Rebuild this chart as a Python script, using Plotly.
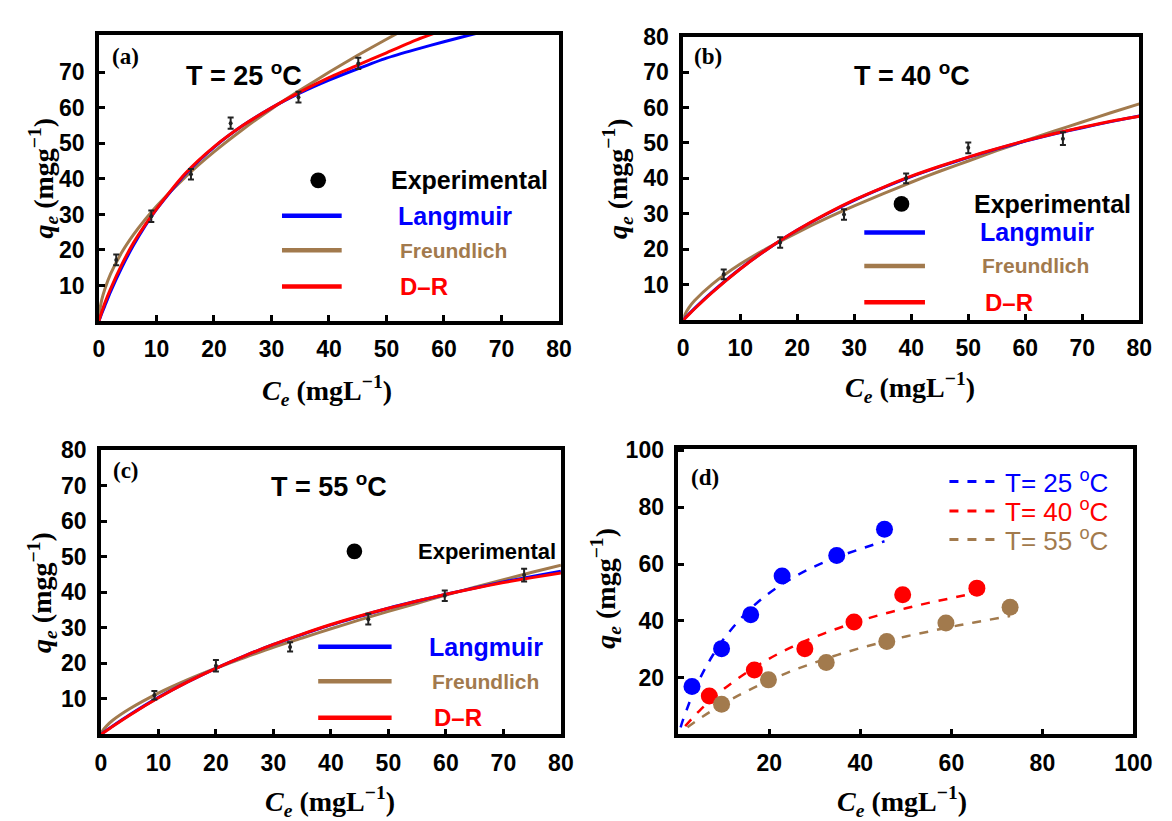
import plotly.graph_objects as go

W, H = 1172, 821

# ---------------- data ----------------
# (a) T = 25 C
a_ce = [3.0, 9.1, 16.0, 22.9, 34.7, 45.1]
a_qe = [17.2, 29.5, 41.3, 55.7, 63.0, 72.5]
a_err = [1.5, 1.6, 1.5, 1.6, 1.5, 1.6]
a_fx = [0, 0.2, 0.5, 1, 2, 4, 6, 8, 10, 15, 20, 25, 30, 35, 40, 45, 50, 55, 60, 65, 70]
a_lang = [0, 0.9, 2.2, 4.2, 8.2, 15.2, 21.3, 26.7, 31.4, 41.3, 48.9, 55.0, 60.0, 64.2, 67.8, 71.0, 74.0, 76.4, 78.6, 80.7, 82.6]
a_freu = [0, 3.6, 6.1, 8.9, 13.2, 19.4, 24.3, 28.5, 32.3, 40.5, 47.6, 53.9, 59.7, 65.0, 70.0, 74.8, 79.3, 83.7, 88.0, 92.0, 96.0]
a_dr = [0, 1.1, 2.6, 5.0, 9.0, 16.0, 22.0, 27.0, 31.5, 41.5, 49.0, 55.0, 60.0, 64.5, 68.5, 72.0, 75.5, 79.0, 82.0, 85.0, 88.0]

# (b) T = 40 C
b_ce = [7.1, 17.0, 28.2, 39.1, 50.0, 66.6]
b_qe = [12.9, 21.9, 29.8, 40.0, 48.6, 51.2]
b_err = [1.4, 1.5, 1.5, 1.4, 1.5, 1.8]
b_fx = [0, 0.2, 1, 2, 5, 10, 15, 20, 25, 30, 35, 40, 45, 50, 55, 60, 65, 70, 75, 80]
b_lang = [0, 0.3, 1.7, 3.3, 7.8, 14.5, 20.3, 25.4, 29.8, 33.8, 37.3, 40.5, 43.3, 45.9, 48.3, 50.5, 52.5, 54.3, 56.0, 57.6]
b_freu = [0, 1.2, 3.5, 5.5, 10.0, 15.8, 20.5, 24.7, 28.6, 32.2, 35.6, 38.9, 42.0, 44.9, 47.8, 50.6, 53.3, 55.9, 58.5, 61.0]
b_dr = [0, 0.3, 1.6, 3.2, 7.7, 14.4, 20.3, 25.4, 29.9, 33.9, 37.4, 40.6, 43.4, 46.0, 48.4, 50.6, 52.6, 54.4, 56.1, 57.5]

# (c) T = 55 C
c_ce = [9.3, 20.0, 32.9, 46.5, 59.8, 73.6]
c_qe = [11.0, 19.3, 24.6, 32.4, 39.0, 44.8]
c_err = [1.2, 1.6, 1.3, 1.5, 1.5, 1.8]
c_fx = [0, 0.2, 1, 2, 5, 10, 15, 20, 25, 30, 35, 40, 45, 50, 55, 60, 65, 70, 75, 80]
c_lang = [0, 0.2, 1.2, 2.3, 5.5, 10.4, 14.7, 18.6, 22.1, 25.3, 28.1, 30.8, 33.2, 35.5, 37.5, 39.4, 41.2, 42.9, 44.4, 45.9]
c_freu = [0, 0.8, 2.4, 3.9, 7.2, 11.6, 15.3, 18.6, 21.6, 24.5, 27.1, 29.7, 32.2, 34.6, 36.9, 39.2, 41.4, 43.5, 45.6, 47.6]
c_dr = [0, 0.2, 1.1, 2.2, 5.4, 10.3, 14.7, 18.6, 22.1, 25.3, 28.2, 30.9, 33.3, 35.5, 37.5, 39.4, 41.1, 42.7, 44.1, 45.4]

# (d) comparison
d25_ce = [3.0, 9.5, 15.9, 22.8, 34.8, 45.3]
d25_qe = [16.9, 30.2, 42.1, 55.8, 63.0, 72.2]
d40_ce = [6.8, 16.7, 27.8, 38.6, 49.3, 65.6]
d40_qe = [13.5, 22.7, 30.2, 39.6, 49.2, 51.5]
d55_ce = [9.5, 19.8, 32.5, 45.8, 58.8, 72.9]
d55_qe = [10.6, 19.2, 25.3, 32.7, 39.2, 44.8]
d25_fx = [0.5, 1, 2, 3, 5, 7.5, 10, 15, 20, 25, 30, 35, 40, 45.3]
d25_fy = [2.5, 5.0, 9.4, 13.5, 20.5, 27.7, 33.7, 42.9, 49.8, 55.0, 59.2, 62.5, 65.3, 68.0]
d40_fx = [1.5, 3, 5, 7.5, 10, 15, 20, 25, 30, 35, 40, 45, 50, 55, 60, 65.6]
d40_fy = [2.9, 5.6, 8.9, 12.6, 16.0, 21.8, 26.7, 30.8, 34.3, 37.3, 40.0, 42.4, 44.4, 46.3, 48.0, 49.9]
d55_fx = [2, 5, 10, 15, 20, 25, 30, 35, 40, 45, 50, 55, 60, 65, 72.9]
d55_fy = [2.5, 5.9, 10.9, 15.2, 19.0, 22.4, 25.3, 28.0, 30.4, 32.5, 34.5, 36.2, 37.9, 39.4, 41.7]

x_ticks_abc = [0, 10, 20, 30, 40, 50, 60, 70, 80]
y_ticks_a = [10, 20, 30, 40, 50, 60, 70]
y_ticks_bc = [10, 20, 30, 40, 50, 60, 70, 80]
ticks_d = [20, 40, 60, 80, 100]

# ---------------- style ----------------
BLUE = "#0000ff"
BROWN = "#a27a4d"
RED = "#ff0000"
TICKFONT = dict(family="Liberation Sans Narrow, Liberation Sans, Arial", size=23, color="black", weight="bold")
SANS = "Liberation Sans, Arial"
SERIF = "Liberation Serif, Times New Roman"

fig = go.Figure()

def add_panel(n, ce, qe, err, fx, lang, freu, dr):
    xa, ya = ("x" if n == 1 else f"x{n}"), ("y" if n == 1 else f"y{n}")
    for ys, col in ((freu, BROWN), (lang, BLUE), (dr, RED)):
        fig.add_trace(go.Scatter(x=fx, y=ys, mode="lines", line=dict(color=col, width=3, shape="spline", smoothing=0.6),
                                 xaxis=xa, yaxis=ya, showlegend=False, hoverinfo="skip"))
    fig.add_trace(go.Scatter(x=ce, y=qe, mode="markers", marker=dict(color="#222", size=4),
                             error_y=dict(type="data", array=err, color="#222", thickness=2, width=3),
                             xaxis=xa, yaxis=ya, showlegend=False))

add_panel(1, a_ce, a_qe, a_err, a_fx, a_lang, a_freu, a_dr)
add_panel(2, b_ce, b_qe, b_err, b_fx, b_lang, b_freu, b_dr)
add_panel(3, c_ce, c_qe, c_err, c_fx, c_lang, c_freu, c_dr)

for fx, fy, ce, qe, col in ((d25_fx, d25_fy, d25_ce, d25_qe, BLUE),
                            (d40_fx, d40_fy, d40_ce, d40_qe, RED),
                            (d55_fx, d55_fy, d55_ce, d55_qe, BROWN)):
    fig.add_trace(go.Scatter(x=fx, y=fy, mode="lines", line=dict(color=col, width=2.5, dash="dash", shape="spline"),
                             xaxis="x4", yaxis="y4", showlegend=False))
    fig.add_trace(go.Scatter(x=ce, y=qe, mode="markers", marker=dict(color=col, size=17),
                             xaxis="x4", yaxis="y4", showlegend=False))

def px(x):
    return x / W

def py(y):
    return 1 - y / H

def axis(dom, rng, ticks, anchor, standoff):
    return dict(domain=dom, range=rng, tickmode="array", tickvals=ticks, ticks="inside", ticklen=6, tickwidth=3,
                tickcolor="black", showline=True, linecolor="black", linewidth=3.5, mirror=True, showgrid=False,
                zeroline=False, tickfont=TICKFONT, anchor=anchor, ticklabelstandoff=standoff)

doms = {
    1: ([px(95), px(565)], [py(313), py(22)]),
    2: ([px(692), px(1158)], [py(312), py(24)]),
    3: ([px(97), px(567)], [py(733), py(444)]),
    4: ([px(687), px(1152)], [py(733), py(443)]),
}

layout = dict(width=W, height=H, margin=dict(l=0, r=0, t=0, b=0), plot_bgcolor="white", paper_bgcolor="white",
              showlegend=False)
layout["xaxis"] = axis(doms[1][0], [0, 80], x_ticks_abc, "y", 5)
layout["yaxis"] = axis(doms[1][1], [0, 80.6], y_ticks_a, "x", 6)
layout["xaxis2"] = axis(doms[2][0], [0, 80], x_ticks_abc, "y2", 5)
layout["yaxis2"] = axis(doms[2][1], [0, 80], y_ticks_bc, "x2", 6)
layout["xaxis3"] = axis(doms[3][0], [0, 80], x_ticks_abc, "y3", 5)
layout["yaxis3"] = axis(doms[3][1], [0, 80], y_ticks_bc, "x3", 6)
layout["xaxis4"] = axis(doms[4][0], [0, 100], ticks_d, "y4", 5)
layout["yaxis4"] = axis(doms[4][1], [0, 100.5], ticks_d, "x4", 6)
fig.update_layout(**layout)

ann = []
shapes = []

def text(x, y, s, size, color="black", family=SANS, xanchor="left", angle=0):
    ann.append(dict(x=px(x), y=py(y), xref="paper", yref="paper", text=s, showarrow=False, xanchor=xanchor,
                    yanchor="middle", textangle=angle, borderpad=0, font=dict(family=family, size=size, color=color)))

def hline(x0, x1, y, color, dash="solid", width=4.5):
    shapes.append(dict(type="line", xref="paper", yref="paper", x0=px(x0), x1=px(x1), y0=py(y), y1=py(y),
                       line=dict(color=color, width=width, dash=dash)))

def dot(cx, cy, r=8):
    shapes.append(dict(type="circle", xref="paper", yref="paper", x0=px(cx - r), x1=px(cx + r), y0=py(cy + r),
                       y1=py(cy - r), fillcolor="black", line=dict(color="black", width=0)))

xt = "<b><i>C<sub>e</sub></i> (mgL<sup>−1</sup>)</b>"
yt = "<b><i>q<sub>e</sub></i> (mgg<sup>−1</sup>)</b>"

# panel labels / axis titles
for (lx, ly, lab), (axx, axy), (ayx, ayy) in (
        ((107, 44, "(a)"), (328, 384), (38, 168)),
        ((702, 44, "(b)"), (924, 381), (625, 168)),
        ((108, 465, "(c)"), (331, 801), (37, 589)),
        ((699, 472, "(d)"), (916, 801), (613, 584))):
    text(lx, ly, f"<b>{lab}</b>", 23, family=SERIF)
    text(axx, axy, xt, 28, family=SERIF, xanchor="center")
    text(ayx, ayy, yt, 28, family=SERIF, xanchor="center", angle=-90)

for tx, ty, tt in ((183, 62, "25"), (865, 62, "40"), (270, 480, "55")):
    text(tx, ty, f"<b>T = {tt} <sup>o</sup>C</b>", 27)

# legend (a)
dot(319, 170)
text(392, 170, "<b>Experimental</b>", 25)
hline(282, 343, 206, BLUE); text(400, 206, "<b>Langmuir</b>", 25, BLUE)
hline(282, 343, 241, BROWN); text(402, 241, "<b>Freundlich</b>", 21, BROWN)
hline(282, 343, 278, RED); text(402, 278, "<b>D–R</b>", 24, RED)

# legend (b)
dot(915, 194)
text(988, 194, "<b>Experimental</b>", 25)
hline(877, 939, 223, BLUE); text(994, 223, "<b>Langmuir</b>", 25, BLUE)
hline(877, 939, 257, BROWN); text(996, 257, "<b>Freundlich</b>", 21, BROWN)
hline(877, 939, 294, RED); text(999, 294, "<b>D–R</b>", 24, RED)

# legend (c)
dot(356, 547)
text(420, 547, "<b>Experimental</b>", 22)
hline(319, 394, 644, BLUE); text(431, 644, "<b>Langmuir</b>", 25, BLUE)
hline(319, 394, 679, BROWN); text(434, 679, "<b>Freundlich</b>", 21, BROWN)
hline(319, 394, 716, RED); text(436, 716, "<b>D–R</b>", 24, RED)

# legend (d)
for yy, col, tt in ((476, BLUE, "25"), (506, RED, "40"), (535, BROWN, "55")):
    hline(964, 1013, yy, col, "dash", 3)
    text(1020, yy, f"T= {tt} <sup>o</sup>C", 26, col)

fig.update_layout(annotations=ann, shapes=shapes)

# pin the figure to the page's top-left corner so the page is exactly figure-sized
PIN = ("var gd=document.getElementById('{plot_id}');gd.style.position='fixed';gd.style.left='0px';"
       "gd.style.top='0px';document.body.style.margin='0';document.documentElement.style.overflow='hidden';")
fig.write_html("out.html", post_script=PIN, config={"displayModeBar": False})
